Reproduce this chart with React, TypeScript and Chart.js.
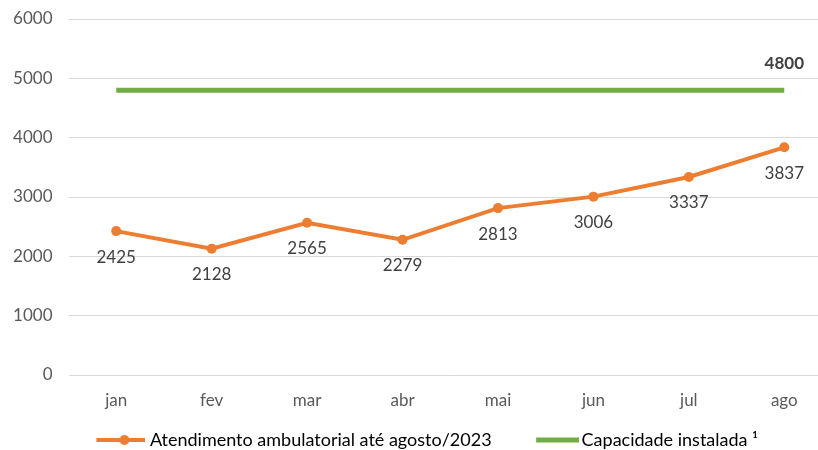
import React, { useEffect, useRef } from "react";
import { Chart, registerables } from "chart.js";

Chart.register(...registerables);

const categories = ["jan", "fev", "mar", "abr", "mai", "jun", "jul", "ago"];
const atendimento = [2425, 2128, 2565, 2279, 2813, 3006, 3337, 3837];
const capacidade = [4800, 4800, 4800, 4800, 4800, 4800, 4800, 4800];
const seriesNames = ["Atendimento ambulatorial até agosto/2023", "Capacidade instalada ¹"];
const yMin = 0;
const yMax = 6000;
const yStep = 1000;

const ORANGE = "#ED7D31";
const GREEN = "#70AD47";
const TEXT = "#404040";
const TICK = "#595959";
const FONT = "Lato";
const SHIFT = 17;

function makeOrangeMarker() {
  const c = document.createElement("canvas");
  c.width = 88;
  c.height = 12;
  const ctx = c.getContext("2d")!;
  ctx.strokeStyle = ORANGE;
  ctx.lineWidth = 4;
  ctx.beginPath();
  ctx.moveTo(39, 6);
  ctx.lineTo(88, 6);
  ctx.stroke();
  ctx.fillStyle = ORANGE;
  ctx.beginPath();
  ctx.arc(67, 6, 5, 0, Math.PI * 2);
  ctx.fill();
  return c;
}

function makeGreenMarker() {
  const c = document.createElement("canvas");
  c.width = 92;
  c.height = 12;
  const ctx = c.getContext("2d")!;
  ctx.strokeStyle = GREEN;
  ctx.lineWidth = 5;
  ctx.beginPath();
  ctx.moveTo(49, 6);
  ctx.lineTo(92, 6);
  ctx.stroke();
  return c;
}

const labelsPlugin = {
  id: "valueLabels",
  afterDatasetsDraw(chart: any) {
    const ctx = chart.ctx;
    ctx.save();
    ctx.textAlign = "center";
    ctx.textBaseline = "middle";
    ctx.fillStyle = TEXT;
    const m0 = chart.getDatasetMeta(0);
    ctx.font = `17px ${FONT}`;
    m0.data.forEach((pt: any, i: number) => {
      ctx.fillText(String(atendimento[i]), pt.x, pt.y + 26);
    });
    const m1 = chart.getDatasetMeta(1);
    const last = m1.data[m1.data.length - 1];
    ctx.font = `bold 17px ${FONT}`;
    ctx.fillText(String(capacidade[capacidade.length - 1]), last.x, last.y - 27);
    ctx.restore();
  },
};

export default function App() {
  const ref = useRef<HTMLCanvasElement>(null);
  useEffect(() => {
    if (!ref.current) return;
    const orangeMarker = makeOrangeMarker();
    const greenMarker = makeGreenMarker();
    const chart = new Chart(ref.current, {
      type: "line",
      data: {
        labels: categories,
        datasets: [
          {
            label: seriesNames[0],
            data: atendimento,
            borderColor: ORANGE,
            backgroundColor: ORANGE,
            borderWidth: 4,
            pointRadius: 5,
            pointHoverRadius: 5,
            pointBackgroundColor: ORANGE,
            pointBorderWidth: 0,
            tension: 0,
          },
          {
            label: seriesNames[1],
            data: capacidade,
            borderColor: GREEN,
            backgroundColor: GREEN,
            borderWidth: 5,
            pointRadius: 0,
            tension: 0,
          },
        ],
      },
      options: {
        animation: false,
        responsive: false,
        maintainAspectRatio: false,
        layout: { padding: { top: 19, left: 0, right: 0, bottom: 0 } },
        plugins: {
          tooltip: { enabled: false },
          legend: {
            position: "bottom",
            maxHeight: 21,
            labels: {
              usePointStyle: true,
              pointStyleWidth: 79,
              boxHeight: 12,
              padding: 2,
              color: TEXT,
              font: { family: FONT, size: 18 },
              generateLabels: () => [
                { text: seriesNames[0], pointStyle: orangeMarker as any, fillStyle: ORANGE, strokeStyle: ORANGE, lineWidth: 0, datasetIndex: 0, hidden: false },
                { text: seriesNames[1], pointStyle: greenMarker as any, fillStyle: GREEN, strokeStyle: GREEN, lineWidth: 0, datasetIndex: 1, hidden: false },
              ],
            },
          },
        },
        scales: {
          x: {
            offset: true,
            grid: { display: false, drawTicks: false },
            border: { display: false },
            ticks: { color: TICK, font: { family: FONT, size: 17 }, padding: 15 },
            afterFit: (s: any) => { s.height = 54; s.paddingTop = 0; s.paddingBottom = 0; },
          },
          y: {
            min: yMin,
            max: yMax,
            border: { display: false },
            grid: { color: "#d9d9d9", drawTicks: false, lineWidth: 1 },
            ticks: {
              stepSize: yStep,
              color: TICK,
              font: { family: FONT, size: 17 },
              padding: 16,
              callback: (v: any) => String(v),
            },
            afterFit: (s: any) => { s.width = 68.5 + SHIFT; s.paddingTop = 0; s.paddingBottom = 0; },
          },
        },
      },
      plugins: [labelsPlugin],
    });
    return () => chart.destroy();
  }, []);
  return (
    <div style={{ position: "fixed", left: 0, top: 0, width: 818, height: 450, overflow: "hidden", background: "#fff" }}>
      <canvas
        ref={ref}
        width={837 + SHIFT}
        height={450}
        style={{ width: 837 + SHIFT, height: 450, display: "block", position: "absolute", left: -SHIFT, top: 0 }}
      />
    </div>
  );
}
